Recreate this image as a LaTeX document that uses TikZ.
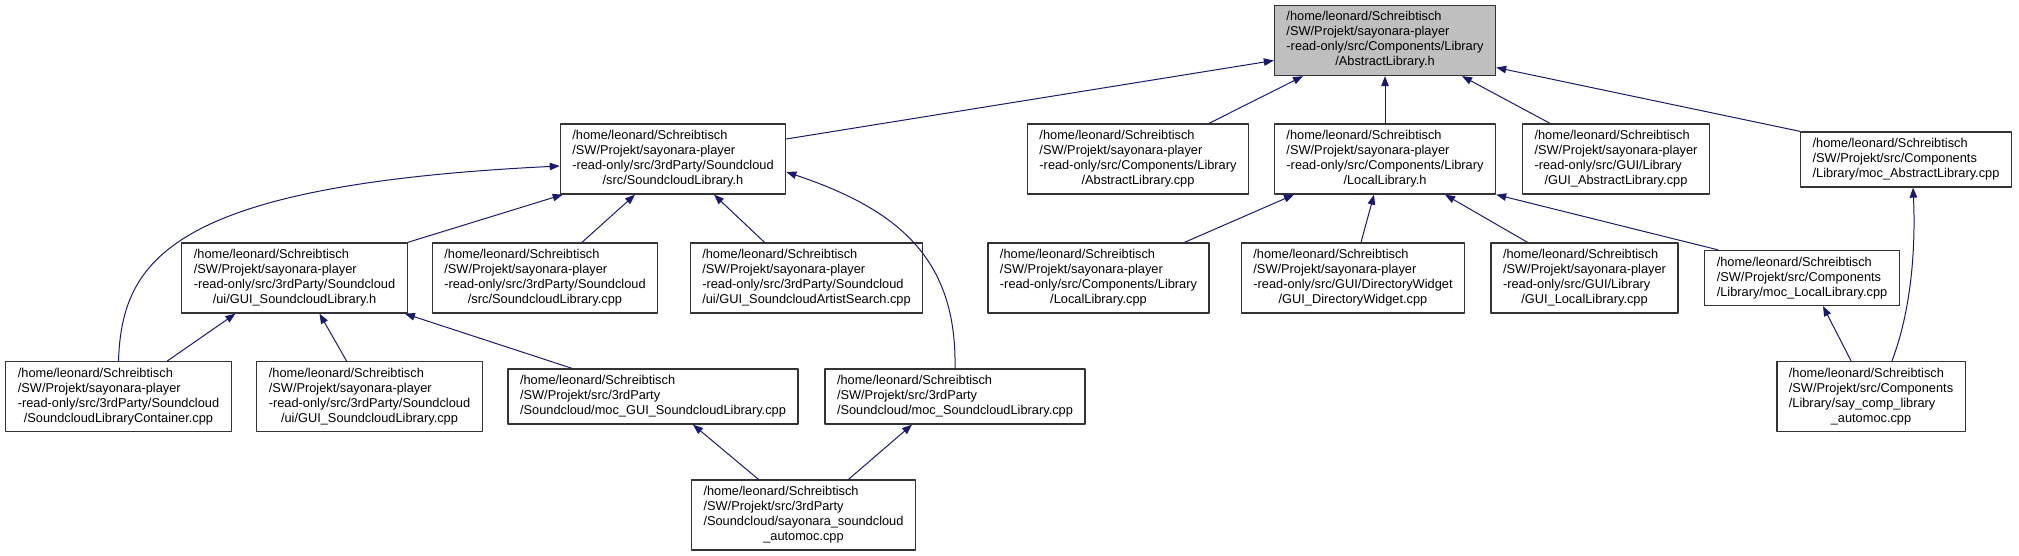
\documentclass[tikz,border=0pt]{standalone}
\usepackage{fontspec}
\setmainfont{Liberation Sans}
\usetikzlibrary{arrows.meta}
\definecolor{edgeblue}{HTML}{191970}
\definecolor{rootgray}{HTML}{BFBFBF}
\newcommand{\fpath}[2]{\begin{tabular}{@{}l@{}}#1\\\multicolumn{1}{@{}c@{}}{#2}\end{tabular}}

\begin{document}
\begin{tikzpicture}[line cap=round,line join=round,>={Triangle[length=10pt,width=7.5pt]},x=1pt,y=-1pt,
  fnode/.style={draw=black!80,line width=1.3pt,fill=white,inner xsep=12pt,inner ysep=5pt,font=\fontsize{12.8}{15}\selectfont},
  dep/.style={->,draw=edgeblue,line width=1pt}]
\useasboundingbox (0,0) rectangle (2019,556);
\node[fnode,fill=rootgray] (abslibh) at (1385,40.5) {\fpath{/home/leonard/Schreibtisch\\/SW/Projekt/sayonara-player\\-read-only/src/Components/Library}{/AbstractLibrary.h}};
\node[fnode] (sclibh) at (673,159) {\fpath{/home/leonard/Schreibtisch\\/SW/Projekt/sayonara-player\\-read-only/src/3rdParty/Soundcloud}{/src/SoundcloudLibrary.h}};
\node[fnode] (abslibcpp) at (1138,159) {\fpath{/home/leonard/Schreibtisch\\/SW/Projekt/sayonara-player\\-read-only/src/Components/Library}{/AbstractLibrary.cpp}};
\node[fnode] (loclibh) at (1385,159) {\fpath{/home/leonard/Schreibtisch\\/SW/Projekt/sayonara-player\\-read-only/src/Components/Library}{/LocalLibrary.h}};
\node[fnode] (guiabscpp) at (1616,159) {\fpath{/home/leonard/Schreibtisch\\/SW/Projekt/sayonara-player\\-read-only/src/GUI/Library}{/GUI\_AbstractLibrary.cpp}};
\node[fnode] (mocabscpp) at (1906,159.5) {\fpath{/home/leonard/Schreibtisch\\/SW/Projekt/src/Components}{/Library/moc\_AbstractLibrary.cpp}};
\node[fnode] (guisclibh) at (294.5,278) {\fpath{/home/leonard/Schreibtisch\\/SW/Projekt/sayonara-player\\-read-only/src/3rdParty/Soundcloud}{/ui/GUI\_SoundcloudLibrary.h}};
\node[fnode] (sclibcpp) at (545,278) {\fpath{/home/leonard/Schreibtisch\\/SW/Projekt/sayonara-player\\-read-only/src/3rdParty/Soundcloud}{/src/SoundcloudLibrary.cpp}};
\node[fnode] (artistcpp) at (806.5,278) {\fpath{/home/leonard/Schreibtisch\\/SW/Projekt/sayonara-player\\-read-only/src/3rdParty/Soundcloud}{/ui/GUI\_SoundcloudArtistSearch.cpp}};
\node[fnode] (loclibcpp) at (1098.5,278) {\fpath{/home/leonard/Schreibtisch\\/SW/Projekt/sayonara-player\\-read-only/src/Components/Library}{/LocalLibrary.cpp}};
\node[fnode] (guidircpp) at (1353,278) {\fpath{/home/leonard/Schreibtisch\\/SW/Projekt/sayonara-player\\-read-only/src/GUI/DirectoryWidget}{/GUI\_DirectoryWidget.cpp}};
\node[fnode] (guiloccpp) at (1584.5,278) {\fpath{/home/leonard/Schreibtisch\\/SW/Projekt/sayonara-player\\-read-only/src/GUI/Library}{/GUI\_LocalLibrary.cpp}};
\node[fnode] (mocloccpp) at (1802,278) {\fpath{/home/leonard/Schreibtisch\\/SW/Projekt/src/Components}{/Library/moc\_LocalLibrary.cpp}};
\node[fnode] (sccontcpp) at (118.5,396.5) {\fpath{/home/leonard/Schreibtisch\\/SW/Projekt/sayonara-player\\-read-only/src/3rdParty/Soundcloud}{/SoundcloudLibraryContainer.cpp}};
\node[fnode] (guisclibcpp) at (369.5,396.5) {\fpath{/home/leonard/Schreibtisch\\/SW/Projekt/sayonara-player\\-read-only/src/3rdParty/Soundcloud}{/ui/GUI\_SoundcloudLibrary.cpp}};
\node[fnode] (mocguisc) at (653,396.5) {\fpath{/home/leonard/Schreibtisch\\/SW/Projekt/src/3rdParty}{/Soundcloud/moc\_GUI\_SoundcloudLibrary.cpp}};
\node[fnode] (mocsc) at (955,396.5) {\fpath{/home/leonard/Schreibtisch\\/SW/Projekt/src/3rdParty}{/Soundcloud/moc\_SoundcloudLibrary.cpp}};
\node[fnode] (saycomp) at (1871,396.5) {\fpath{/home/leonard/Schreibtisch\\/SW/Projekt/src/Components\\/Library/say\_comp\_library}{\_automoc.cpp}};
\node[fnode] (scautomoc) at (803.5,515) {\fpath{/home/leonard/Schreibtisch\\/SW/Projekt/src/3rdParty\\/Soundcloud/sayonara\_soundcloud}{\_automoc.cpp}};

\draw[dep] ([yshift=20pt]sclibh.east) -- ([yshift=-20pt]abslibh.west);
\draw[dep] ([xshift=71pt]abslibcpp.north) -- ([xshift=-82pt]abslibh.south);
\draw[dep] (loclibh.north) -- (abslibh.south);
\draw[dep] ([xshift=-66pt]guiabscpp.north) -- ([xshift=77pt]abslibh.south);
\draw[dep] (mocabscpp.north west) -- ([yshift=-27pt]abslibh.east);
\draw[dep] (guisclibh.north east) -- ([xshift=3pt]sclibh.south west);
\draw[dep] ([xshift=37pt]sclibcpp.north) -- ([xshift=-38pt]sclibh.south);
\draw[dep] ([xshift=-42pt]artistcpp.north) -- ([xshift=41pt]sclibh.south);
\draw[dep] (sccontcpp.north) .. controls (122,260) and (170,185) .. ([yshift=-7pt]sclibh.west);
\draw[dep] (mocsc.north) .. controls (957,260) and (900,210) .. ([yshift=-13pt]sclibh.east);
\draw[dep] ([xshift=86pt]loclibcpp.north) -- ([xshift=-91pt]loclibh.south);
\draw[dep] ([xshift=8pt]guidircpp.north) -- ([xshift=-11pt]loclibh.south);
\draw[dep] ([xshift=-57pt]guiloccpp.north) -- ([xshift=60pt]loclibh.south);
\draw[dep] ([xshift=-84pt]mocloccpp.north) -- (loclibh.south east);
\draw[dep] ([xshift=49pt]sccontcpp.north) -- ([xshift=-59pt]guisclibh.south);
\draw[dep] ([xshift=-23pt]guisclibcpp.north) -- ([xshift=25pt]guisclibh.south);
\draw[dep] ([xshift=-81pt]mocguisc.north) -- ([xshift=-3pt]guisclibh.south east);
\draw[dep] ([xshift=-45pt]scautomoc.north) -- ([xshift=40pt]mocguisc.south);
\draw[dep] ([xshift=45pt]scautomoc.north) -- ([xshift=-43pt]mocsc.south);
\draw[dep] ([xshift=-20pt]saycomp.north) -- ([xshift=21pt]mocloccpp.south);
\draw[dep] ([xshift=21pt]saycomp.north) .. controls (1915,300) and (1915,230) .. ([xshift=7pt]mocabscpp.south);
\end{tikzpicture}
\end{document}
